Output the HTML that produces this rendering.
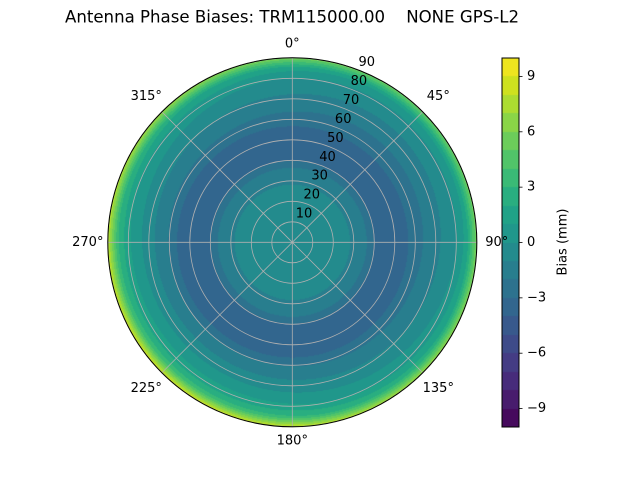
<!DOCTYPE html>
<html><head><meta charset="utf-8">
<style>
html,body{margin:0;padding:0;background:#fff;}
#wrap{position:relative;width:640px;height:480px;font-family:"DejaVu Sans","Liberation Sans",sans-serif;}
canvas,svg{position:absolute;left:0;top:0;}
</style></head>
<body>
<div id="wrap">
<canvas id="cv" width="640" height="480"></canvas>
<svg id="sv" width="640" height="480"></svg>
</div>
<script>
// ---- data ----
const zenithNodes = [0,5,10,15,20,25,30,35,40,45,50,55,60,65,70,75,80,85,90];
const biasProfile = [-0.4,-0.4,-0.4,-0.4,-0.4,-0.5,-1.3,-1.6,-3.1,-3.4,-3.4,-3.3,-2.2,-1.6,-0.9,-0.2,0.6,2.3,7.0];
const biasAsym = [0,0,0,0,0,0,0,0,0,0,0,0,0.2,0.4,0.5,0.7,0.9,1.2,1.6];
const asymAzimuth = 225;
const radialTicks = [10,20,30,40,50,60,70,80,90];
const angleTicks = [0,45,90,135,180,225,270,315];
const cbarTicks = [-9,-6,-3,0,3,6,9];
const levelMin = -10, levelMax = 10, levelCount = 20;

const CX=292.3, CY=242.3, R=184.5, ZMAX=90;
const vir=[[0,'#440154'],[0.05,'#471365'],[0.1,'#482475'],[0.15,'#463480'],[0.2,'#414487'],[0.25,'#3b528b'],[0.3,'#355f8d'],[0.35,'#2f6c8e'],[0.4,'#2a788e'],[0.45,'#25848e'],[0.5,'#21918c'],[0.55,'#1e9c89'],[0.6,'#22a884'],[0.65,'#2fb47c'],[0.7,'#44bf70'],[0.75,'#5ec962'],[0.8,'#7ad151'],[0.85,'#9bd93c'],[0.9,'#bddf26'],[0.95,'#dfe318'],[1,'#fde725']];
function hx(h){return [parseInt(h.slice(1,3),16),parseInt(h.slice(3,5),16),parseInt(h.slice(5,7),16)];}
function viridis(t){t=Math.max(0,Math.min(1,t));for(let i=1;i<vir.length;i++){if(t<=vir[i][0]){const a=vir[i-1],b=vir[i];const f=(t-a[0])/(b[0]-a[0]);const A=hx(a[1]),B=hx(b[1]);return A.map((v,k)=>Math.round(v+(B[k]-v)*f));}}return hx('#fde725');}
function interp(arr,z){const s=ZMAX/(zenithNodes.length-1);let i=Math.min(zenithNodes.length-2,Math.floor(z/s));const f=(z-zenithNodes[i])/s;return arr[i]+(arr[i+1]-arr[i])*f;}
function bias(z,az){return interp(biasProfile,z)+interp(biasAsym,z)*Math.cos((az-asymAzimuth)*Math.PI/180);}
const step=(levelMax-levelMin)/levelCount;
function levelColor(v){let k=Math.floor((v-levelMin)/step);k=Math.max(0,Math.min(levelCount-1,k));return viridis((k+0.5)/levelCount);}
function rOf(z){return z/ZMAX*R;}
function xy(z,az){const a=az*Math.PI/180;return [CX+rOf(z)*Math.sin(a),CY-rOf(z)*Math.cos(a)];}

// ---- fill ----
const ctx=document.getElementById('cv').getContext('2d');
const img=ctx.createImageData(640,480);
for(let y=0;y<480;y++)for(let x=0;x<640;x++){
 const dx=x+0.5-CX, dy=y+0.5-CY, r=Math.hypot(dx,dy);
 const i=(y*640+x)*4;
 if(r<=R){const z=r/R*ZMAX;let az=Math.atan2(dx,-dy)*180/Math.PI;if(az<0)az+=360;
  const c=levelColor(bias(z,az));img.data[i]=c[0];img.data[i+1]=c[1];img.data[i+2]=c[2];img.data[i+3]=255;}
}
const CBX=502,CBY=58,CBW=17,CBH=369;
for(let y=CBY;y<CBY+CBH;y++){const v=levelMax-(y+0.5-CBY)/CBH*(levelMax-levelMin);const c=levelColor(v);
 for(let x=CBX;x<CBX+CBW;x++){const i=(y*640+x)*4;img.data[i]=c[0];img.data[i+1]=c[1];img.data[i+2]=c[2];img.data[i+3]=255;}}
ctx.putImageData(img,0,0);

// ---- overlay ----
const NS='http://www.w3.org/2000/svg', sv=document.getElementById('sv');
function el(t,a,p){const e=document.createElementNS(NS,t);for(const k in a)e.setAttribute(k,a[k]);(p||sv).appendChild(e);return e;}
function txt(s,x,y,anchor,size,p){const t=el('text',{x:x,y:y,'text-anchor':anchor,'font-size':size,'dominant-baseline':'central',fill:'#000'},p);t.textContent=s;return t;}
const grid=el('g',{});


radialTicks.forEach(z=>{const c=el('circle',{cx:CX,cy:CY,r:rOf(z),fill:'none',stroke:'#b0b0b0','stroke-width':0.8},grid);
 
 });
angleTicks.forEach(a=>{const p=xy(ZMAX,a);const l=el('line',{x1:CX,y1:CY,x2:p[0],y2:p[1],stroke:'#b0b0b0','stroke-width':0.8},grid);
 
 });
const border=el('circle',{cx:CX,cy:CY,r:R,fill:'none',stroke:'#000','stroke-width':1});


radialTicks.forEach(z=>{const a=22.5*Math.PI/180,r=rOf(z)+10;
 const t=txt(String(z),CX+r*Math.sin(a),CY-r*Math.cos(a),'middle',13);
 
 });
angleTicks.forEach(a=>{const rad=a*Math.PI/180;const diag=(a%90)!==0;const r=R+(a%180===90?20:(diag?22:14));
 const t=txt(a+'°',CX+r*Math.sin(rad),CY-r*Math.cos(rad),'middle',13);
 
 });
const cbf=el('rect',{x:CBX,y:CBY,width:CBW,height:CBH,fill:'none',stroke:'#000','stroke-width':1});


cbarTicks.forEach(v=>{const y=CBY+(levelMax-v)/(levelMax-levelMin)*CBH;
 const l=el('line',{x1:CBX+CBW,y1:y,x2:CBX+CBW+3.5,y2:y,stroke:'#000','stroke-width':0.8});
 
 
 const t=txt(v<0?'\u2212'+(-v):String(v),CBX+CBW+8,y,'start',13);
 
 });
const cl=txt('Bias (mm)',0,0,'middle',13);
cl.setAttribute('transform','translate(563,242) rotate(-90)');


const ti=el('text',{x:292,y:17,'text-anchor':'middle','font-size':16.6,'dominant-baseline':'central',fill:'#000',style:'white-space:pre'});
ti.textContent='Antenna Phase Biases: TRM115000.00    NONE GPS-L2';


</script>
</body></html>
